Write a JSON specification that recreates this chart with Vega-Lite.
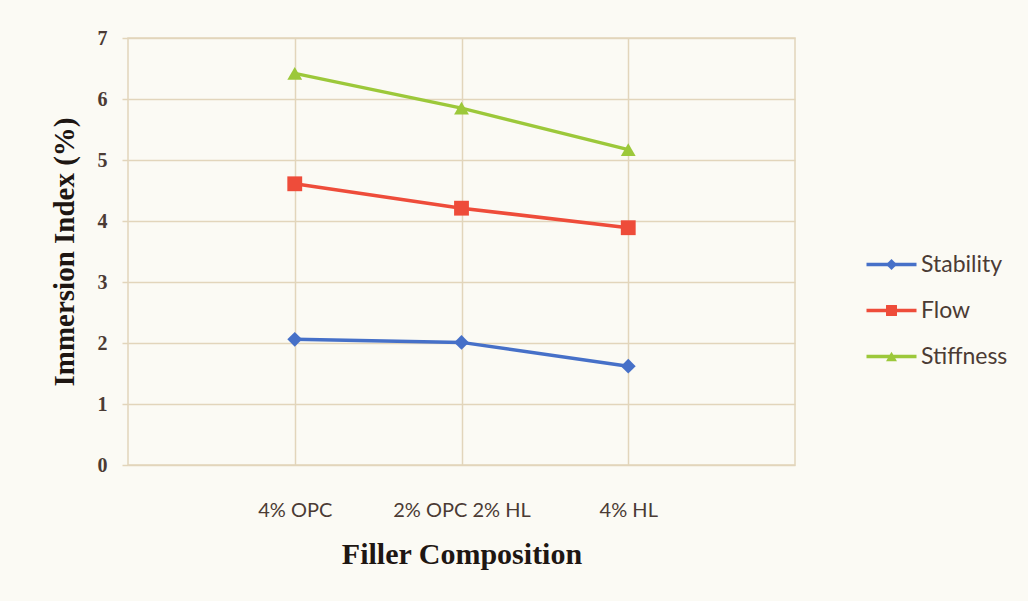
{
  "$schema": "https://vega.github.io/schema/vega-lite/v6.json",
  "width": 667,
  "height": 427,
  "autosize": {"type": "none"},
  "padding": {"left": 128, "top": 38, "right": 233, "bottom": 136},
  "background": "#fbfaf4",
  "data": {
    "values": [
      {"composition": "4% OPC", "property": "Stability", "value": 2.06},
      {"composition": "2% OPC 2% HL", "property": "Stability", "value": 2.01},
      {"composition": "4% HL", "property": "Stability", "value": 1.62},
      {"composition": "4% OPC", "property": "Flow", "value": 4.61},
      {"composition": "2% OPC 2% HL", "property": "Flow", "value": 4.21},
      {"composition": "4% HL", "property": "Flow", "value": 3.89},
      {"composition": "4% OPC", "property": "Stiffness", "value": 6.42},
      {"composition": "2% OPC 2% HL", "property": "Stiffness", "value": 5.85},
      {"composition": "4% HL", "property": "Stiffness", "value": 5.17}
    ]
  },
  "encoding": {
    "x": {
      "field": "composition",
      "type": "ordinal",
      "sort": ["4% OPC", "2% OPC 2% HL", "4% HL"],
      "scale": {"type": "point", "padding": 1},
      "axis": {
        "title": "Filler Composition",
        "labelAngle": 0,
        "grid": true,
        "ticks": false,
        "domain": false,
        "labelPadding": 35,
        "labelFont": "Lato",
        "labelFontSize": 20,
        "labelColor": "#4b3b34",
        "titleFont": "Liberation Serif",
        "titleFontWeight": "bold",
        "titleFontSize": 30,
        "titleColor": "#1e1612",
        "titlePadding": 19
      }
    },
    "y": {
      "field": "value",
      "type": "quantitative",
      "scale": {"domain": [0, 7], "nice": false},
      "axis": {
        "title": "Immersion Index (%)",
        "values": [0, 1, 2, 3, 4, 5, 6, 7],
        "grid": true,
        "domain": false,
        "ticks": true,
        "tickSize": 6,
        "tickColor": "#e2d5bb",
        "tickWidth": 1.5,
        "labelPadding": 15,
        "labelFont": "Liberation Serif",
        "labelFontWeight": "bold",
        "labelFontSize": 20,
        "labelColor": "#4b3b34",
        "titleFont": "Liberation Serif",
        "titleFontWeight": "bold",
        "titleFontSize": 29,
        "titleColor": "#1e1612",
        "titlePadding": 18
      }
    }
  },
  "layer": [
    {
      "mark": {"type": "line", "strokeWidth": 3.5},
      "encoding": {
        "color": {
          "field": "property",
          "type": "nominal",
          "sort": ["Stability", "Flow", "Stiffness"],
          "scale": {"range": ["#4670c8", "#ee4c3a", "#9cc83a"]},
          "legend": {
            "title": null,
            "orient": "none",
            "legendX": 752,
            "legendY": 215,
            "padding": 0,
            "symbolType": "M-5,0H5",
            "symbolSize": 100,
            "symbolStrokeWidth": 3.5,
            "rowPadding": 22,
            "labelOffset": 18,
            "labelFont": "Lato",
            "labelFontSize": 23,
            "labelColor": "#4b3b34"
          }
        }
      }
    },
    {
      "mark": {"type": "point", "filled": true, "opacity": 1, "size": 220},
      "encoding": {
        "fill": {
          "field": "property",
          "type": "nominal",
          "scale": {
            "domain": ["Stability", "Flow", "Stiffness"],
            "range": ["#4670c8", "#ee4c3a", "#9cc83a"]
          },
          "legend": {
            "title": null,
            "orient": "none",
            "legendX": 752,
            "legendY": 215,
            "padding": 0,
            "symbolSize": 120,
            "symbolStrokeWidth": 0,
            "rowPadding": 22,
            "labelOffset": 18,
            "labelFont": "Lato",
            "labelFontSize": 23,
            "labelOpacity": 0
          }
        },
        "shape": {
          "field": "property",
          "type": "nominal",
          "scale": {
            "domain": ["Stability", "Flow", "Stiffness"],
            "range": ["diamond", "square", "triangle-up"]
          },
          "legend": {
            "title": null,
            "orient": "none",
            "legendX": 752,
            "legendY": 215,
            "padding": 0,
            "symbolSize": 120,
            "symbolStrokeWidth": 0,
            "rowPadding": 22,
            "labelOffset": 18,
            "labelFont": "Lato",
            "labelFontSize": 23,
            "labelOpacity": 0
          }
        }
      }
    }
  ],
  "config": {
    "view": {"stroke": "#e2d5bb", "strokeWidth": 1.5},
    "axis": {"gridColor": "#e2d5bb", "gridWidth": 1.5, "gridOpacity": 1}
  }
}
